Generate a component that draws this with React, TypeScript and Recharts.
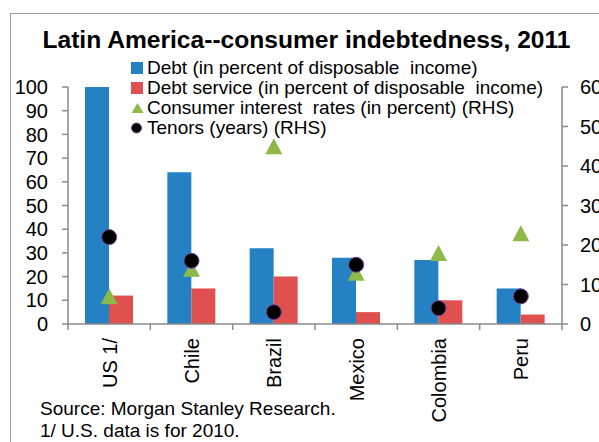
import { ComposedChart, Bar, Line, XAxis, YAxis } from 'recharts';

const countries = ['US 1/', 'Chile', 'Brazil', 'Mexico', 'Colombia', 'Peru'];
const debt = [100, 64, 32, 28, 27, 15];
const debtService = [12, 15, 20, 5, 10, 4];
const interestRates = [7, 14, 45, 13, 18, 23];
const tenors = [22, 16, 3, 15, 4, 7];
const leftTicks = [0, 10, 20, 30, 40, 50, 60, 70, 80, 90, 100];
const rightTicks = [0, 10, 20, 30, 40, 50, 60];

const data = countries.map((name, i) => ({
  name,
  debt: debt[i],
  debtService: debtService[i],
  rates: interestRates[i],
  tenors: tenors[i],
}));

const BLUE = '#2481C3';
const RED = '#E0504F';
const GREEN = '#8DB84A';
const AXIS = '#8a8a8a';
const FONT = '"Liberation Sans", Arial, sans-serif';

const legendItems = [
  { label: 'Debt (in percent of disposable  income)', kind: 'blue' },
  { label: 'Debt service (in percent of disposable  income)', kind: 'red' },
  { label: 'Consumer interest  rates (in percent) (RHS)', kind: 'tri' },
  { label: 'Tenors (years) (RHS)', kind: 'dot' },
];

function Triangle(props: any) {
  const { cx, cy } = props;
  if (cx == null || cy == null) return null;
  return <path d={`M${cx},${cy - 8} L${cx + 8.5},${cy + 8} L${cx - 8.5},${cy + 8} Z`} fill={GREEN} />;
}

function Dot(props: any) {
  const { cx, cy } = props;
  if (cx == null || cy == null) return null;
  return <circle cx={cx} cy={cy} r={7.5} fill="#000" stroke="#7B3E9B" strokeWidth={1} />;
}

// Excel-style category axis: ticks sit between the categories
function CategoryTick(props: any) {
  const { x, payload, index } = props;
  const half = payload.offset || 41.2;
  const top = 324;
  return (
    <g>
      <line x1={x - half} x2={x - half} y1={top} y2={top + 6} stroke={AXIS} strokeWidth={1.5} />
      {index === countries.length - 1 && (
        <line x1={x + half} x2={x + half} y1={top} y2={top + 6} stroke={AXIS} strokeWidth={1.5} />
      )}
      <text
        x={x + 7.5}
        y={338}
        transform={`rotate(-90, ${x + 7.5}, 338)`}
        textAnchor="end"
        fontSize={20}
        fontFamily={FONT}
        fill="#000"
      >
        {payload.value}
      </text>
    </g>
  );
}

function LegendMark({ kind }: { kind: string }) {
  if (kind === 'tri') {
    return (
      <svg width={13} height={12} style={{ marginRight: 3 }}>
        <path d="M6.5,1 L12.5,11 L0.5,11 Z" fill={GREEN} />
      </svg>
    );
  }
  if (kind === 'dot') {
    return (
      <svg width={13} height={12} style={{ marginRight: 3 }}>
        <circle cx={5.5} cy={6} r={5} fill="#000" stroke="#7B3E9B" strokeWidth={1} />
      </svg>
    );
  }
  return (
    <span
      style={{
        display: 'inline-block',
        width: 12,
        height: 12,
        marginRight: 4,
        background: kind === 'blue' ? BLUE : RED,
      }}
    />
  );
}

export default function App() {
  return (
    <div
      style={{
        position: 'absolute',
        left: 0,
        top: 0,
        width: 599,
        height: 442,
        overflow: 'hidden',
        background: '#fff',
        fontFamily: FONT,
      }}
    >
      <div
        style={{
          position: 'absolute',
          left: 10,
          top: 13,
          width: 700,
          height: 600,
          border: '1.5px solid #a0a0a0',
        }}
      />
      <div
        style={{
          position: 'absolute',
          left: 20,
          width: 573,
          top: 27,
          textAlign: 'center',
          fontSize: 24.6,
          lineHeight: '25px',
          fontWeight: 'bold',
          color: '#000',
          whiteSpace: 'nowrap',
        }}
      >
        Latin America--consumer indebtedness, 2011
      </div>
      <div style={{ position: 'absolute', left: 0, top: 0 }}>
        <ComposedChart
          width={599}
          height={442}
          data={data}
          margin={{ top: 87, right: 0, left: 0, bottom: 0 }}
          barGap={0}
        >
          <XAxis
            dataKey="name"
            xAxisId="x"
            height={118}
            stroke={AXIS}
            strokeWidth={1.5}
            tickLine={false}
            tick={<CategoryTick />}
            interval={0}
          />
          <YAxis
            yAxisId="left"
            width={68}
            domain={[0, 100]}
            ticks={leftTicks}
            interval={0}
            stroke={AXIS}
            strokeWidth={1.5}
            tickSize={6}
            tickMargin={14}
            tick={{ fill: '#000', fontSize: 20, fontFamily: FONT }}
          />
          <YAxis
            yAxisId="right"
            orientation="right"
            width={37}
            domain={[0, 60]}
            ticks={rightTicks}
            interval={0}
            stroke={AXIS}
            strokeWidth={1.5}
            tickSize={6}
            tickMargin={12}
            tick={{ fill: '#000', fontSize: 20, fontFamily: FONT, textAnchor: 'start' }}
          />
          <Bar xAxisId="x" yAxisId="left" dataKey="debt" fill={BLUE} barSize={24} isAnimationActive={false} />
          <Bar xAxisId="x" yAxisId="left" dataKey="debtService" fill={RED} barSize={24} isAnimationActive={false} />
          <Line
            xAxisId="x"
            yAxisId="right"
            dataKey="rates"
            stroke="none"
            dot={<Triangle />}
            activeDot={false}
            isAnimationActive={false}
          />
          <Line
            xAxisId="x"
            yAxisId="right"
            dataKey="tenors"
            stroke="none"
            dot={<Dot />}
            activeDot={false}
            isAnimationActive={false}
          />
        </ComposedChart>
      </div>
      <div style={{ position: 'absolute', left: 131, top: 58 }}>
        {legendItems.map((it) => (
          <div
            key={it.label}
            style={{
              display: 'flex',
              alignItems: 'center',
              height: 20,
              fontSize: 19,
              lineHeight: '20px',
              whiteSpace: 'pre',
              color: '#000',
            }}
          >
            <LegendMark kind={it.kind} />
            <span>{it.label}</span>
          </div>
        ))}
      </div>
      <div
        style={{
          position: 'absolute',
          left: 40,
          top: 398,
          fontSize: 19,
          lineHeight: '22px',
          color: '#000',
        }}
      >
        <div>Source: Morgan Stanley Research.</div>
        <div>1/ U.S. data is for 2010.</div>
      </div>
    </div>
  );
}
